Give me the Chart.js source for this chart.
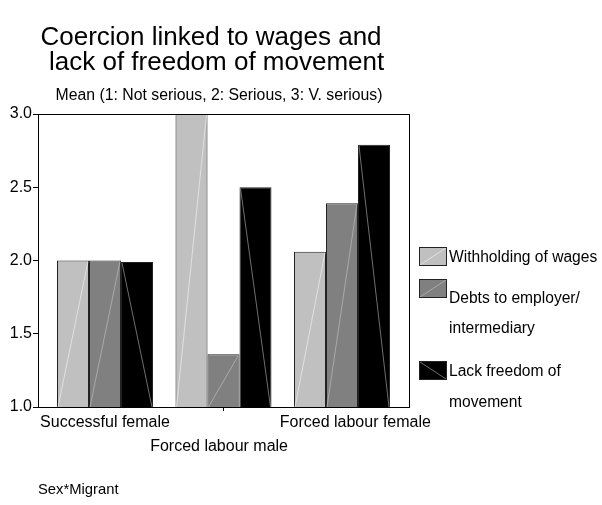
<!DOCTYPE html>
<html>
<head>
<meta charset="utf-8">
<script src="https://cdn.jsdelivr.net/npm/chart.js@4/dist/chart.umd.min.js"></script>
<style>
  html, body { margin: 0; padding: 0; background: #fff; }
  #box { position: relative; width: 602px; height: 505px; }
</style>
</head>
<body>
<div id="box"><canvas id="coercionChart" width="602" height="505"></canvas></div>
<script>
// ===== data =====
const groups = ['Successful female', 'Forced labour male', 'Forced labour female']
const seriesNames = ['Withholding of wages', 'Debts to employer/ intermediary', 'Lack freedom of movement']
const wages = [2.0, 3.0, 2.06]
const debts = [2.0, 1.36, 2.39]
const freedom = [1.99, 2.5, 2.79]
const yTicks = [1.0, 1.5, 2.0, 2.5, 3.0]

const FONT = 'Liberation Sans, Arial, sans-serif'
const fills = ['#c0c0c0', '#808080', '#000000']
const hatch = ['#e8e8e8', '#b4b4b4', '#8a8a8a']

// petit trait diagonal dans chaque barre (comme dans l'original)
function diag (ctx, x0, y0, x1, y1, i) {
  ctx.save()
  ctx.strokeStyle = hatch[i]
  ctx.lineWidth = 0.8
  ctx.beginPath()
  if (i === 2) { ctx.moveTo(x0, y0); ctx.lineTo(x1, y1) } else { ctx.moveTo(x0, y1); ctx.lineTo(x1, y0) }
  ctx.stroke()
  ctx.restore()
}

// les étiquettes x de l'original ne sont pas tout à fait centrées sous les groupes
function xLabel (v, i) {
  if (i === 1) return ['', groups[i] + '\u00a0\u00a0']
  if (i === 2) return '\u00a0\u00a0\u00a0\u00a0\u00a0\u00a0' + groups[i]
  return groups[i]
}

const decorPlugin = {
  id: 'decor',
  afterLayout (chart) {
    // les groupes ne touchent pas les bords du cadre : on resserre l'axe x
    const x = chart.scales.x
    x._startPixel += 7.75
    x._endPixel -= 7.75
    x._length -= 15.5
  },
  afterDatasetsDraw (chart) {
    const ctx = chart.ctx
    const a = chart.chartArea
    chart.data.datasets.forEach((ds, i) => {
      chart.getDatasetMeta(i).data.forEach(bar => {
        const w = bar.width / 2
        diag(ctx, bar.x - w + 1, bar.y + 1, bar.x + w - 1, Math.min(bar.base, a.bottom), i)
      })
    })
    // cadre
    ctx.save()
    ctx.strokeStyle = '#000'
    ctx.lineWidth = 1
    ctx.strokeRect(a.left + 0.5, a.top + 0.5, a.right - a.left, a.bottom - a.top)
    ctx.restore()
  },
  afterDraw (chart) {
    const ctx = chart.ctx
    ctx.save()
    ctx.fillStyle = '#000'
    ctx.textBaseline = 'middle'
    ctx.textAlign = 'center'
    ctx.font = '26px ' + FONT
    ctx.fillText('Coercion linked to wages and', 211, 38)
    ctx.fillText(' lack of freedom of movement', 213, 63)
    ctx.font = '15.8px ' + FONT
    ctx.fillText('Mean (1: Not serious, 2: Serious, 3: V. serious)', 219, 96)
    ctx.textAlign = 'left'
    ctx.font = '14.8px ' + FONT
    ctx.fillText('Sex*Migrant', 38, 490)

    // légende
    const boxes = [248, 280, 362]
    const lines = [
      [['Withholding of wages', 258]],
      [['Debts to employer/', 299], ['intermediary', 329]],
      [['Lack freedom of', 372], ['movement', 403]]
    ]
    ctx.font = '15.6px ' + FONT
    boxes.forEach((by, i) => {
      ctx.fillStyle = fills[i]
      ctx.fillRect(420, by, 26, 17)
      diag(ctx, 420, by, 446, by + 17, i)
      ctx.strokeStyle = '#222'
      ctx.lineWidth = 1
      ctx.strokeRect(419.5, by - 0.5, 27, 18)
      ctx.fillStyle = '#000'
      lines[i].forEach(([t, y]) => ctx.fillText(t, 449, y))
    })
    ctx.restore()
  }
}

const ctxEl = document.getElementById('coercionChart')
new Chart(ctxEl.getContext('2d'), {
  type: 'bar',
  data: {
    labels: groups,
    datasets: [wages, debts, freedom].map((vals, i) => ({
      label: seriesNames[i],
      data: vals,
      backgroundColor: fills[i],
      borderColor: '#222',
      borderWidth: 1,
      categoryPercentage: 0.81,
      barPercentage: 1.0
    }))
  },
  options: {
    responsive: false,
    devicePixelRatio: 1,
    animation: false,
    layout: { padding: { top: 114, right: 193, left: 0, bottom: 0 } },
    plugins: {
      legend: { display: false },
      title: { display: false },
      tooltip: { enabled: false }
    },
    scales: {
      x: {
        afterFit: s => { s.height = 98 },
        grid: {
          offset: false,
          drawOnChartArea: false,
          tickLength: 4,
          color: c => (c.index === 1 ? '#000' : 'rgba(0,0,0,0)')
        },
        border: { display: true, color: '#000', width: 1 },
        ticks: {
          color: '#000',
          padding: 0,
          maxRotation: 0,
          autoSkip: false,
          font: { family: FONT, size: 16, lineHeight: 1.5 },
          callback: xLabel
        }
      },
      y: {
        min: 1,
        max: 3,
        afterFit: s => { s.width = 38 },
        afterBuildTicks: s => { s.ticks = yTicks.map(v => ({ value: v })) },
        grid: { drawOnChartArea: false, tickLength: 5, color: '#000' },
        border: { display: true, color: '#000', width: 1 },
        ticks: {
          color: '#000',
          padding: 1,
          font: { family: FONT, size: 16 },
          callback: v => v.toFixed(1)
        }
      }
    }
  },
  plugins: [decorPlugin]
})
</script>
</body>
</html>
